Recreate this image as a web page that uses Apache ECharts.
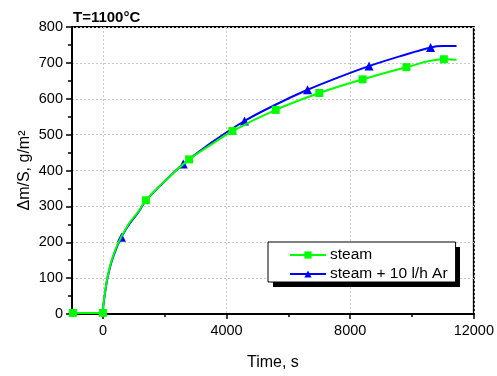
<!DOCTYPE html>
<html>
<head>
<meta charset="UTF-8">
<title>T=1100°C</title>
<script src="https://cdn.jsdelivr.net/npm/echarts@6/dist/echarts.min.js"></script>
<style>
  html, body { margin: 0; padding: 0; background: #fff; }
  #main { width: 497px; height: 376px; }
</style>
</head>
<body>
<div id="main"></div>
<script>
// time (s) / mass gain (g/m2)
var steamTime = [-970, 0, 10, 65, 150, 280, 474, 818, 1142, 1390, 1900, 2790, 3500, 4190, 5590, 7000, 8400, 9820, 11030, 11440]
var steamGain = [3, 3, 22, 59, 104, 149, 194, 249, 285, 317, 362, 431, 472, 510, 569, 616, 654, 688, 710, 709]
var steamMarks = [0, 1, 9, 11, 13, 14, 15, 16, 17, 18]

var arTime = [-970, 0, 10, 65, 150, 280, 474, 600, 818, 1142, 1400, 2000, 2600, 3500, 4580, 5600, 6620, 7600, 8610, 9600, 10600, 11000, 11440]
var arGain = [3, 3, 20, 56, 101, 146, 191, 214, 246, 283, 317, 370, 418, 477, 538, 584, 625, 659, 691, 718, 743, 747, 747]
var arMarks = [7, 12, 14, 16, 18, 20]

var xLabels = [0, 4000, 8000, 12000]
var xMinor = [2000, 6000, 10000]

function buildData(times, gains, marks) {
  var out = []
  for (var i = 0; i < times.length; i++) {
    var item = { value: [times[i], gains[i]] }
    if (marks.indexOf(i) < 0) item.symbol = 'none'
    out.push(item)
  }
  return out
}

var font = 'Liberation Sans, Arial, sans-serif'
var chart = echarts.init(document.getElementById('main'))

chart.setOption({
  animation: false,
  backgroundColor: '#fff',
  textStyle: { fontFamily: font, color: '#000' },
  title: {
    text: 'T=1100°C',
    left: 68,
    top: 5,
    textStyle: { fontFamily: font, fontSize: 15, fontWeight: 'bold', color: '#000' }
  },
  grid: {
    left: 72, right: 22, top: 27, bottom: 54,
    show: true, borderColor: '#000', borderWidth: 2
  },
  // legend drop shadow
  graphic: [{
    type: 'rect',
    z: 3,
    shape: { x: 273, y: 247, width: 187, height: 40 },
    style: { fill: '#000' }
  }],
  legend: {
    z: 4,
    orient: 'vertical',
    left: 268,
    top: 242,
    padding: [5, 8, 0, 21],
    itemWidth: 36,
    itemHeight: 9,
    itemGap: 3,
    backgroundColor: '#fff',
    borderColor: '#000',
    borderWidth: 1,
    textStyle: { fontFamily: font, fontSize: 15.5, color: '#000', padding: [0, 0, 0, -1] },
    data: ['steam', 'steam + 10 l/h Ar']
  },
  xAxis: [
    {
      type: 'value',
      min: -1000,
      max: 12000,
      name: 'Time, s',
      nameLocation: 'middle',
      nameGap: 41,
      nameMoveOverlap: false,
      nameTextStyle: { fontFamily: font, fontSize: 16, color: '#000' },
      axisLine: { onZero: false, lineStyle: { color: '#000', width: 2 } },
      axisTick: { show: true, length: 5, customValues: xLabels, lineStyle: { color: '#000', width: 1.5 } },
      axisLabel: {
        customValues: xLabels, fontFamily: font, fontSize: 14.5, color: '#000', margin: 9,
        formatter: function (v) { return String(v) }
      },
      splitLine: { show: true, lineStyle: { color: '#c8c8c8', type: [2, 2], width: 1 } }
    },
    {
      type: 'value',
      min: -1000,
      max: 12000,
      position: 'bottom',
      axisLine: { show: false, onZero: false },
      axisTick: { show: true, length: 3, customValues: xMinor, lineStyle: { color: '#000', width: 1.5 } },
      axisLabel: { show: false },
      splitLine: { show: false }
    }
  ],
  yAxis: {
    type: 'value',
    min: 0,
    max: 800,
    interval: 100,
    name: 'Δm/S, g/m²',
    nameLocation: 'middle',
    nameGap: 39,
    nameMoveOverlap: false,
    nameTextStyle: { fontFamily: font, fontSize: 16, color: '#000' },
    axisLine: { show: true, onZero: false, lineStyle: { color: '#000', width: 2 } },
    axisTick: { show: true, length: 6, lineStyle: { color: '#000', width: 1.5 } },
    minorTick: { show: true, splitNumber: 2, length: 4, lineStyle: { color: '#000', width: 1.5 } },
    axisLabel: { fontFamily: font, fontSize: 14.5, color: '#000', margin: 9 },
    splitLine: { show: true, lineStyle: { color: '#c8c8c8', type: [2, 2], width: 1 } }
  },
  series: [
    {
      name: 'steam + 10 l/h Ar',
      type: 'line',
      z: 2,
      smooth: 0.4,
      symbol: 'triangle',
      symbolSize: 9,
      itemStyle: { color: '#0000ff' },
      lineStyle: { color: '#0000ff', width: 2 },
      data: buildData(arTime, arGain, arMarks)
    },
    {
      name: 'steam',
      type: 'line',
      z: 3,
      smooth: 0.4,
      symbol: 'rect',
      symbolSize: 8,
      itemStyle: { color: '#00ff00' },
      lineStyle: { color: '#00ff00', width: 2 },
      data: buildData(steamTime, steamGain, steamMarks)
    }
  ]
})
</script>
</body>
</html>
